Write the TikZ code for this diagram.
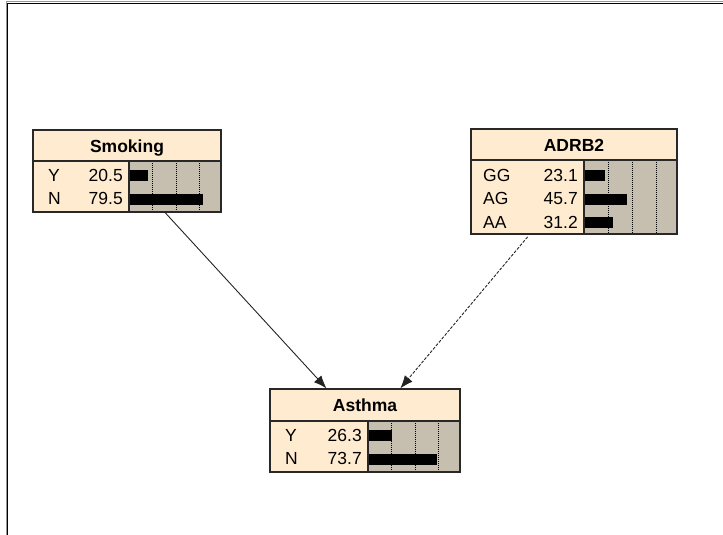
\documentclass[tikz,border=0pt]{standalone}
\usepackage{fontspec}
\setmainfont{Liberation Sans}
\usetikzlibrary{arrows.meta,fit}

\definecolor{peach}{RGB}{255,236,208}
\definecolor{barbg}{RGB}{198,191,176}
\definecolor{boxedge}{RGB}{40,40,40}
\definecolor{linkgray}{RGB}{35,35,35}
\definecolor{framegray}{RGB}{150,150,150}

\newcommand\titlesize{\fontsize{17.5}{20}\selectfont}
\newcommand\rowsize{\fontsize{17.5}{20}\selectfont}

% one state row: name prefix, label x, value x, bar x, row centre y, label, value
\newcommand\staterow[7]{%
  \fill[black] (#4,#5-4.5) rectangle ++(0.93*#7,11);
  \node[statelab] (#1-lab) at (#2,#5+6.5) {#6};
  \node[stateval] (#1-val) at (#3,#5+6.5) {#7};
}

\tikzset{
  boxline/.style={draw=boxedge, line width=1.1pt},
  boxtitle/.style={font=\titlesize\bfseries, anchor=base, inner sep=0pt},
  statelab/.style={font=\rowsize, anchor=base west, inner sep=0pt},
  stateval/.style={font=\rowsize, anchor=base east, inner sep=0pt},
  gridline/.style={dash pattern=on 1pt off 1pt, line width=0.8pt},
  link/.style={draw=linkgray, line width=0.9pt, -{Latex[length=13pt,width=10pt]}},
}

\begin{document}
\begin{tikzpicture}[x=1pt,y=-1pt]
\useasboundingbox (0,0) rectangle (723,535);

% window frame
\draw[framegray, line width=1pt] (6,535) -- (6,2) -- (723,2);
\draw[black, line width=1pt] (7.5,535) -- (7.5,3.5) -- (723,3.5);

% ---- Smoking ----
\fill[peach] (33,130) rectangle (221,212);
\fill[barbg] (129,161) rectangle (221,212);
\foreach \gx in {152.5,176,199.5} \draw[gridline] (\gx,161) -- (\gx,212);
\staterow{smk-y}{48}{123}{129}{174.5}{Y}{20.5}
\staterow{smk-n}{48}{123}{129}{198}{N}{79.5}
\node[fit={(33,130) (221,212)}, inner sep=0pt, boxline] (smoking) {};
\draw[boxline] (33,161) -- (221,161) (129,161) -- (129,212);
\node[boxtitle] (smoking-title) at (127,152) {Smoking};

% ---- ADRB2 ----
\fill[peach] (471,129) rectangle (677,234);
\fill[barbg] (584,160) rectangle (677,234);
\foreach \gx in {608,632,656} \draw[gridline] (\gx,160) -- (\gx,234);
\staterow{adr-gg}{483}{578}{584}{174.5}{GG}{23.1}
\staterow{adr-ag}{483}{578}{584}{198}{AG}{45.7}
\staterow{adr-aa}{483}{578}{584}{221.5}{AA}{31.2}
\node[fit={(471,129) (677,234)}, inner sep=0pt, boxline] (adrb2) {};
\draw[boxline] (471,160) -- (677,160) (584,160) -- (584,234);
\node[boxtitle] (adrb2-title) at (574,151) {ADRB2};

% ---- Asthma ----
\fill[peach] (270,389) rectangle (460,472);
\fill[barbg] (368,421) rectangle (460,472);
\foreach \gx in {391,415,438} \draw[gridline] (\gx,421) -- (\gx,472);
\staterow{ast-y}{285}{362}{368}{434.5}{Y}{26.3}
\staterow{ast-n}{285}{362}{368}{458}{N}{73.7}
\node[fit={(270,389) (460,472)}, inner sep=0pt, boxline] (asthma) {};
\draw[boxline] (270,421) -- (460,421) (368,421) -- (368,472);
\node[boxtitle] (asthma-title) at (365,411) {Asthma};

% ---- links ----
\draw[link] (smoking) -- (asthma);
\draw[link, dash pattern=on 3pt off 1.5pt, shorten <=3pt] (adrb2) -- (asthma);
\end{tikzpicture}
\end{document}
